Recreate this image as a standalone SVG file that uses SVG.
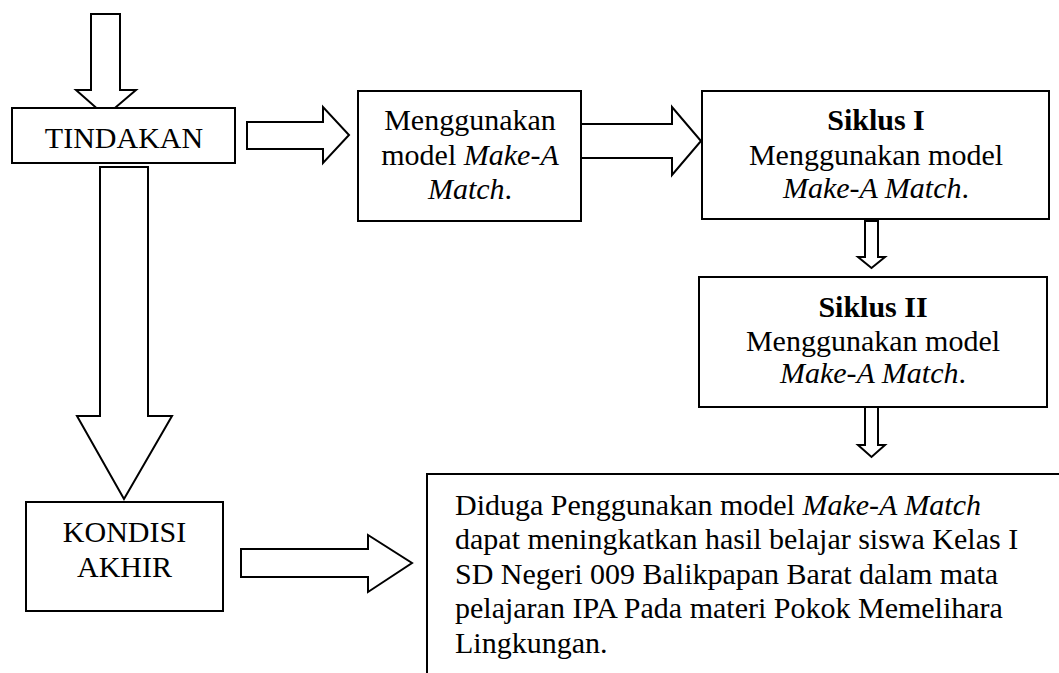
<svg xmlns="http://www.w3.org/2000/svg" width="1059" height="673" viewBox="0 0 1059 673">
<style>
.shape{fill:#fff;stroke:#000;stroke-width:2}
.t{font-family:"Liberation Serif","Times New Roman",serif;font-size:30px;fill:#000}
.c{text-anchor:middle}
.b{font-weight:bold}
.i{font-style:italic}
</style>
<rect width="1059" height="673" fill="#fff"/>
<g id="connectors">
<polygon class="shape" points="91,14 120,14 120,90 136,90 105.5,116 76,90 91,90"/>
<polygon class="shape" points="100,167 148,167 148,416 172,416 124,499 77,416 100,416"/>
<polygon class="shape" points="247,122 323,122 323,107 349,135 323,163 323,149 247,149"/>
<polygon class="shape" points="581,124 672,124 672,107 701,141 672,175 672,158 581,158"/>
<polygon class="shape" points="865,221 878,221 878,257 885,257 871.5,268 858,257 865,257"/>
<polygon class="shape" points="865,407 878,407 878,445 885,445 871.5,457 858,445 865,445"/>
<polygon class="shape" points="241,549 368,549 368,535 412,563 368,592 368,577 241,577"/>
</g>
<g id="tindakan">
<rect class="shape" x="12" y="108" width="223" height="55"/>
<text class="t c" x="124" y="148">TINDAKAN</text>
</g>
<g id="menggunakan">
<rect class="shape" x="358" y="91" width="223" height="130"/>
<text class="t c" x="470" y="130">Menggunakan</text>
<text class="t c" x="470" y="165">model <tspan class="i">Make-A</tspan></text>
<text class="t c" x="470" y="199"><tspan class="i">Match</tspan>.</text>
</g>
<g id="siklus1">
<rect class="shape" x="702" y="91" width="347" height="128"/>
<text class="t c b" x="876" y="130">Siklus I</text>
<text class="t c" x="876" y="165">Menggunakan model</text>
<text class="t c" x="876" y="198"><tspan class="i">Make-A Match</tspan>.</text>
</g>
<g id="siklus2">
<rect class="shape" x="699" y="277" width="348" height="130"/>
<text class="t c b" x="873" y="317">Siklus II</text>
<text class="t c" x="873" y="351">Menggunakan model</text>
<text class="t c" x="873" y="383"><tspan class="i">Make-A Match</tspan>.</text>
</g>
<g id="kondisi-akhir">
<rect class="shape" x="26" y="502" width="197" height="109"/>
<text class="t c" x="124.5" y="542">KONDISI</text>
<text class="t c" x="124.5" y="577">AKHIR</text>
</g>
<g id="hipotesis">
<path class="shape" d="M427,673 V474 H1062"/>
<text class="t" x="455" y="515">Diduga Penggunakan model <tspan class="i">Make-A Match</tspan></text>
<text class="t" x="455" y="549">dapat meningkatkan hasil belajar siswa Kelas I</text>
<text class="t" x="455" y="584">SD Negeri 009 Balikpapan Barat dalam mata</text>
<text class="t" x="455" y="618">pelajaran IPA Pada materi Pokok Memelihara</text>
<text class="t" x="455" y="653">Lingkungan.</text>
</g>
</svg>
